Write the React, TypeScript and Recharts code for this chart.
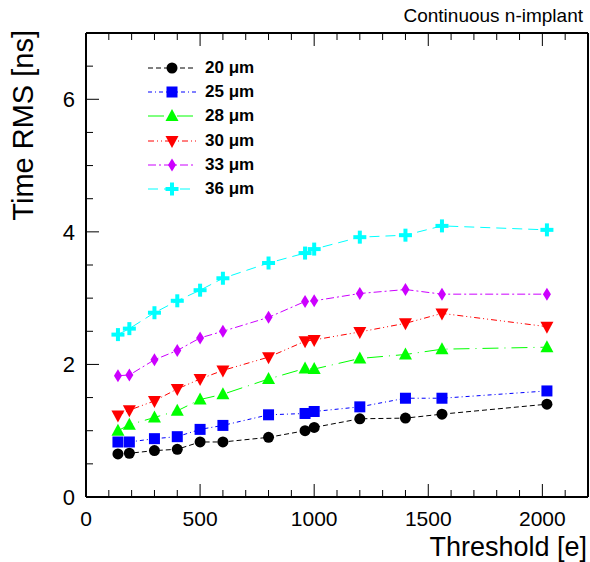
import React from 'react';
import { LineChart, Line, XAxis, YAxis, Legend } from 'recharts';

// Threshold values [e]
const thresholds = [140, 190, 300, 400, 500, 600, 800, 960, 1000, 1200, 1400, 1560, 2020];

// Time RMS [ns] per pixel pitch
const rms20 = [0.65, 0.66, 0.7, 0.72, 0.83, 0.83, 0.9, 1.0, 1.05, 1.18, 1.19, 1.25, 1.4];
const rms25 = [0.83, 0.83, 0.88, 0.91, 1.02, 1.08, 1.24, 1.26, 1.29, 1.36, 1.49, 1.49, 1.6];
const rms28 = [1.0, 1.09, 1.2, 1.3, 1.47, 1.55, 1.78, 1.94, 1.93, 2.09, 2.15, 2.23, 2.26];
const rms30 = [1.23, 1.31, 1.45, 1.63, 1.78, 1.91, 2.11, 2.35, 2.37, 2.49, 2.62, 2.77, 2.57];
const rms33 = [1.83, 1.84, 2.07, 2.21, 2.4, 2.5, 2.71, 2.95, 2.96, 3.07, 3.13, 3.06, 3.06];
const rms36 = [2.45, 2.54, 2.78, 2.96, 3.12, 3.3, 3.53, 3.68, 3.74, 3.92, 3.95, 4.09, 4.03];

const xTicks = Array.from({ length: 23 }, (_, i) => i * 100);
const yTicks = Array.from({ length: 15 }, (_, i) => i * 0.5);

const FONT = '"Liberation Sans", Arial, sans-serif';

const series = [
  { key: 'd20', name: '20 \u03bcm', values: rms20, color: '#000000', dash: '5 3', shape: 'circle' },
  { key: 'd25', name: '25 \u03bcm', values: rms25, color: '#0000ff', dash: '4 3 1 3', shape: 'square' },
  { key: 'd28', name: '28 \u03bcm', values: rms28, color: '#00ff00', dash: '16 6 1 6', shape: 'triUp' },
  { key: 'd30', name: '30 \u03bcm', values: rms30, color: '#ff0000', dash: '6 3 1 3 1 3', shape: 'triDown' },
  { key: 'd33', name: '33 \u03bcm', values: rms33, color: '#cc00ff', dash: '8 3 2 3', shape: 'diamond' },
  { key: 'd36', name: '36 \u03bcm', values: rms36, color: '#00ffff', dash: '10 6', shape: 'cross' },
];

const data = thresholds.map((x, i) => {
  const row: any = { x };
  series.forEach(s => { row[s.key] = s.values[i]; });
  return row;
});

function Marker({ shape, cx, cy, color }: any) {
  switch (shape) {
    case 'circle':
      return <circle cx={cx} cy={cy} r={5.5} fill={color} />;
    case 'square':
      return <rect x={cx - 5.5} y={cy - 5.5} width={11} height={11} fill={color} />;
    case 'triUp':
      return <polygon points={`${cx},${cy - 7} ${cx + 6.5},${cy + 5} ${cx - 6.5},${cy + 5}`} fill={color} />;
    case 'triDown':
      return <polygon points={`${cx - 6.5},${cy - 5} ${cx + 6.5},${cy - 5} ${cx},${cy + 7}`} fill={color} />;
    case 'diamond':
      return <polygon points={`${cx},${cy - 6.5} ${cx + 4},${cy} ${cx},${cy + 6.5} ${cx - 4},${cy}`} fill={color} />;
    default:
      return (
        <g fill={color}>
          <rect x={cx - 6.5} y={cy - 2} width={13} height={4} />
          <rect x={cx - 2} y={cy - 6.5} width={4} height={13} />
        </g>
      );
  }
}

// ROOT style inward ticks
const BottomTick = ({ x, y, payload }: any) => {
  const v = payload.value;
  const major = v % 500 === 0;
  return (
    <g>
      <line x1={x} x2={x} y1={y} y2={y - (major ? 13 : 7)} stroke="#000" strokeWidth={1} />
      {major && (
        <text x={x} y={y + 29} textAnchor="middle" fontSize={21} fontFamily={FONT} fill="#000">
          {v}
        </text>
      )}
    </g>
  );
};

const TopTick = ({ x, y, payload }: any) => {
  const major = payload.value % 500 === 0;
  return <line x1={x} x2={x} y1={y} y2={y + (major ? 13 : 7)} stroke="#000" strokeWidth={1} />;
};

const LeftTick = ({ x, y, payload }: any) => {
  const v = payload.value;
  const major = v % 2 === 0;
  return (
    <g>
      <line x1={x} x2={x + (major ? 13 : 7)} y1={y} y2={y} stroke="#000" strokeWidth={1} />
      {major && (
        <text x={x - 11} y={y + 8} textAnchor="end" fontSize={22} fontFamily={FONT} fill="#000">
          {v}
        </text>
      )}
    </g>
  );
};

const RightTick = ({ x, y, payload }: any) => {
  const major = payload.value % 2 === 0;
  return <line x1={x} x2={x - (major ? 13 : 7)} y1={y} y2={y} stroke="#000" strokeWidth={1} />;
};

const renderLegend = () => (
  <div style={{ fontFamily: FONT }}>
    {series.map(s => (
      <div key={s.key} style={{ display: 'flex', alignItems: 'center', height: 24.2 }}>
        <svg width={60} height={20}>
          <line x1={8} x2={56} y1={10} y2={10} stroke={s.color} strokeWidth={1} strokeDasharray={s.dash} />
          <Marker shape={s.shape} cx={32} cy={10} color={s.color} />
        </svg>
        <span style={{ fontSize: 17, fontWeight: 'bold', marginLeft: 5, color: '#000' }}>{s.name}</span>
      </div>
    ))}
  </div>
);

export default function App() {
  return (
    <div style={{ position: 'absolute', left: 0, top: 0, width: 590, height: 562, background: '#fff', fontFamily: FONT }}>
      <LineChart width={590} height={562} data={data} margin={{ top: 32, right: 1, bottom: 35, left: 46 }}>
        <XAxis
          xAxisId="bottom"
          dataKey="x"
          type="number"
          domain={[0, 2200]}
          ticks={xTicks}
          interval={0}
          tick={<BottomTick />}
          tickSize={0}
          tickMargin={0}
          height={30}
          axisLine={{ stroke: '#000', strokeWidth: 2 }}
          label={(p: any) => (
            <text
              x={p.viewBox.x + p.viewBox.width - 1}
              y={p.viewBox.y + 59}
              textAnchor="end"
              fontSize={27}
              fontFamily={FONT}
              fill="#000"
            >
              Threshold [e]
            </text>
          )}
        />
        <XAxis
          xAxisId="top"
          orientation="top"
          dataKey="x"
          type="number"
          domain={[0, 2200]}
          ticks={xTicks}
          interval={0}
          tick={<TopTick />}
          tickSize={0}
          tickMargin={0}
          height={1}
          axisLine={{ stroke: '#000', strokeWidth: 2 }}
          label={(p: any) => (
            <text
              x={p.viewBox.x + p.viewBox.width - 5}
              y={p.viewBox.y - 10}
              textAnchor="end"
              fontSize={19}
              fontFamily={FONT}
              fill="#000"
            >
              Continuous n-implant
            </text>
          )}
        />
        <YAxis
          yAxisId="left"
          type="number"
          domain={[0, 7]}
          ticks={yTicks}
          interval={0}
          tick={<LeftTick />}
          tickSize={0}
          tickMargin={0}
          width={40}
          axisLine={{ stroke: '#000', strokeWidth: 2 }}
          label={(p: any) => (
            <text
              x={33}
              y={p.viewBox.y - 3}
              transform={`rotate(-90, 33, ${p.viewBox.y - 3})`}
              textAnchor="end"
              fontSize={29}
              fontFamily={FONT}
              fill="#000"
            >
              Time RMS [ns]
            </text>
          )}
        />
        <YAxis
          yAxisId="right"
          orientation="right"
          type="number"
          domain={[0, 7]}
          ticks={yTicks}
          interval={0}
          tick={<RightTick />}
          tickSize={0}
          tickMargin={0}
          width={1}
          axisLine={{ stroke: '#000', strokeWidth: 2 }}
        />
        <Legend
          content={renderLegend}
          layout="vertical"
          align="center"
          verticalAlign="middle"
          wrapperStyle={{ left: 140, top: 56, width: 160 }}
        />
        {series.map(s => (
          <Line
            key={s.key}
            xAxisId="bottom"
            yAxisId="left"
            dataKey={s.key}
            name={s.name}
            type="linear"
            stroke={s.color}
            strokeWidth={1}
            strokeDasharray={s.dash}
            isAnimationActive={false}
            dot={(p: any) => (
              <Marker key={`${s.key}-${p.index}`} shape={s.shape} cx={p.cx} cy={p.cy} color={s.color} />
            )}
            activeDot={false}
          />
        ))}
      </LineChart>
    </div>
  );
}
